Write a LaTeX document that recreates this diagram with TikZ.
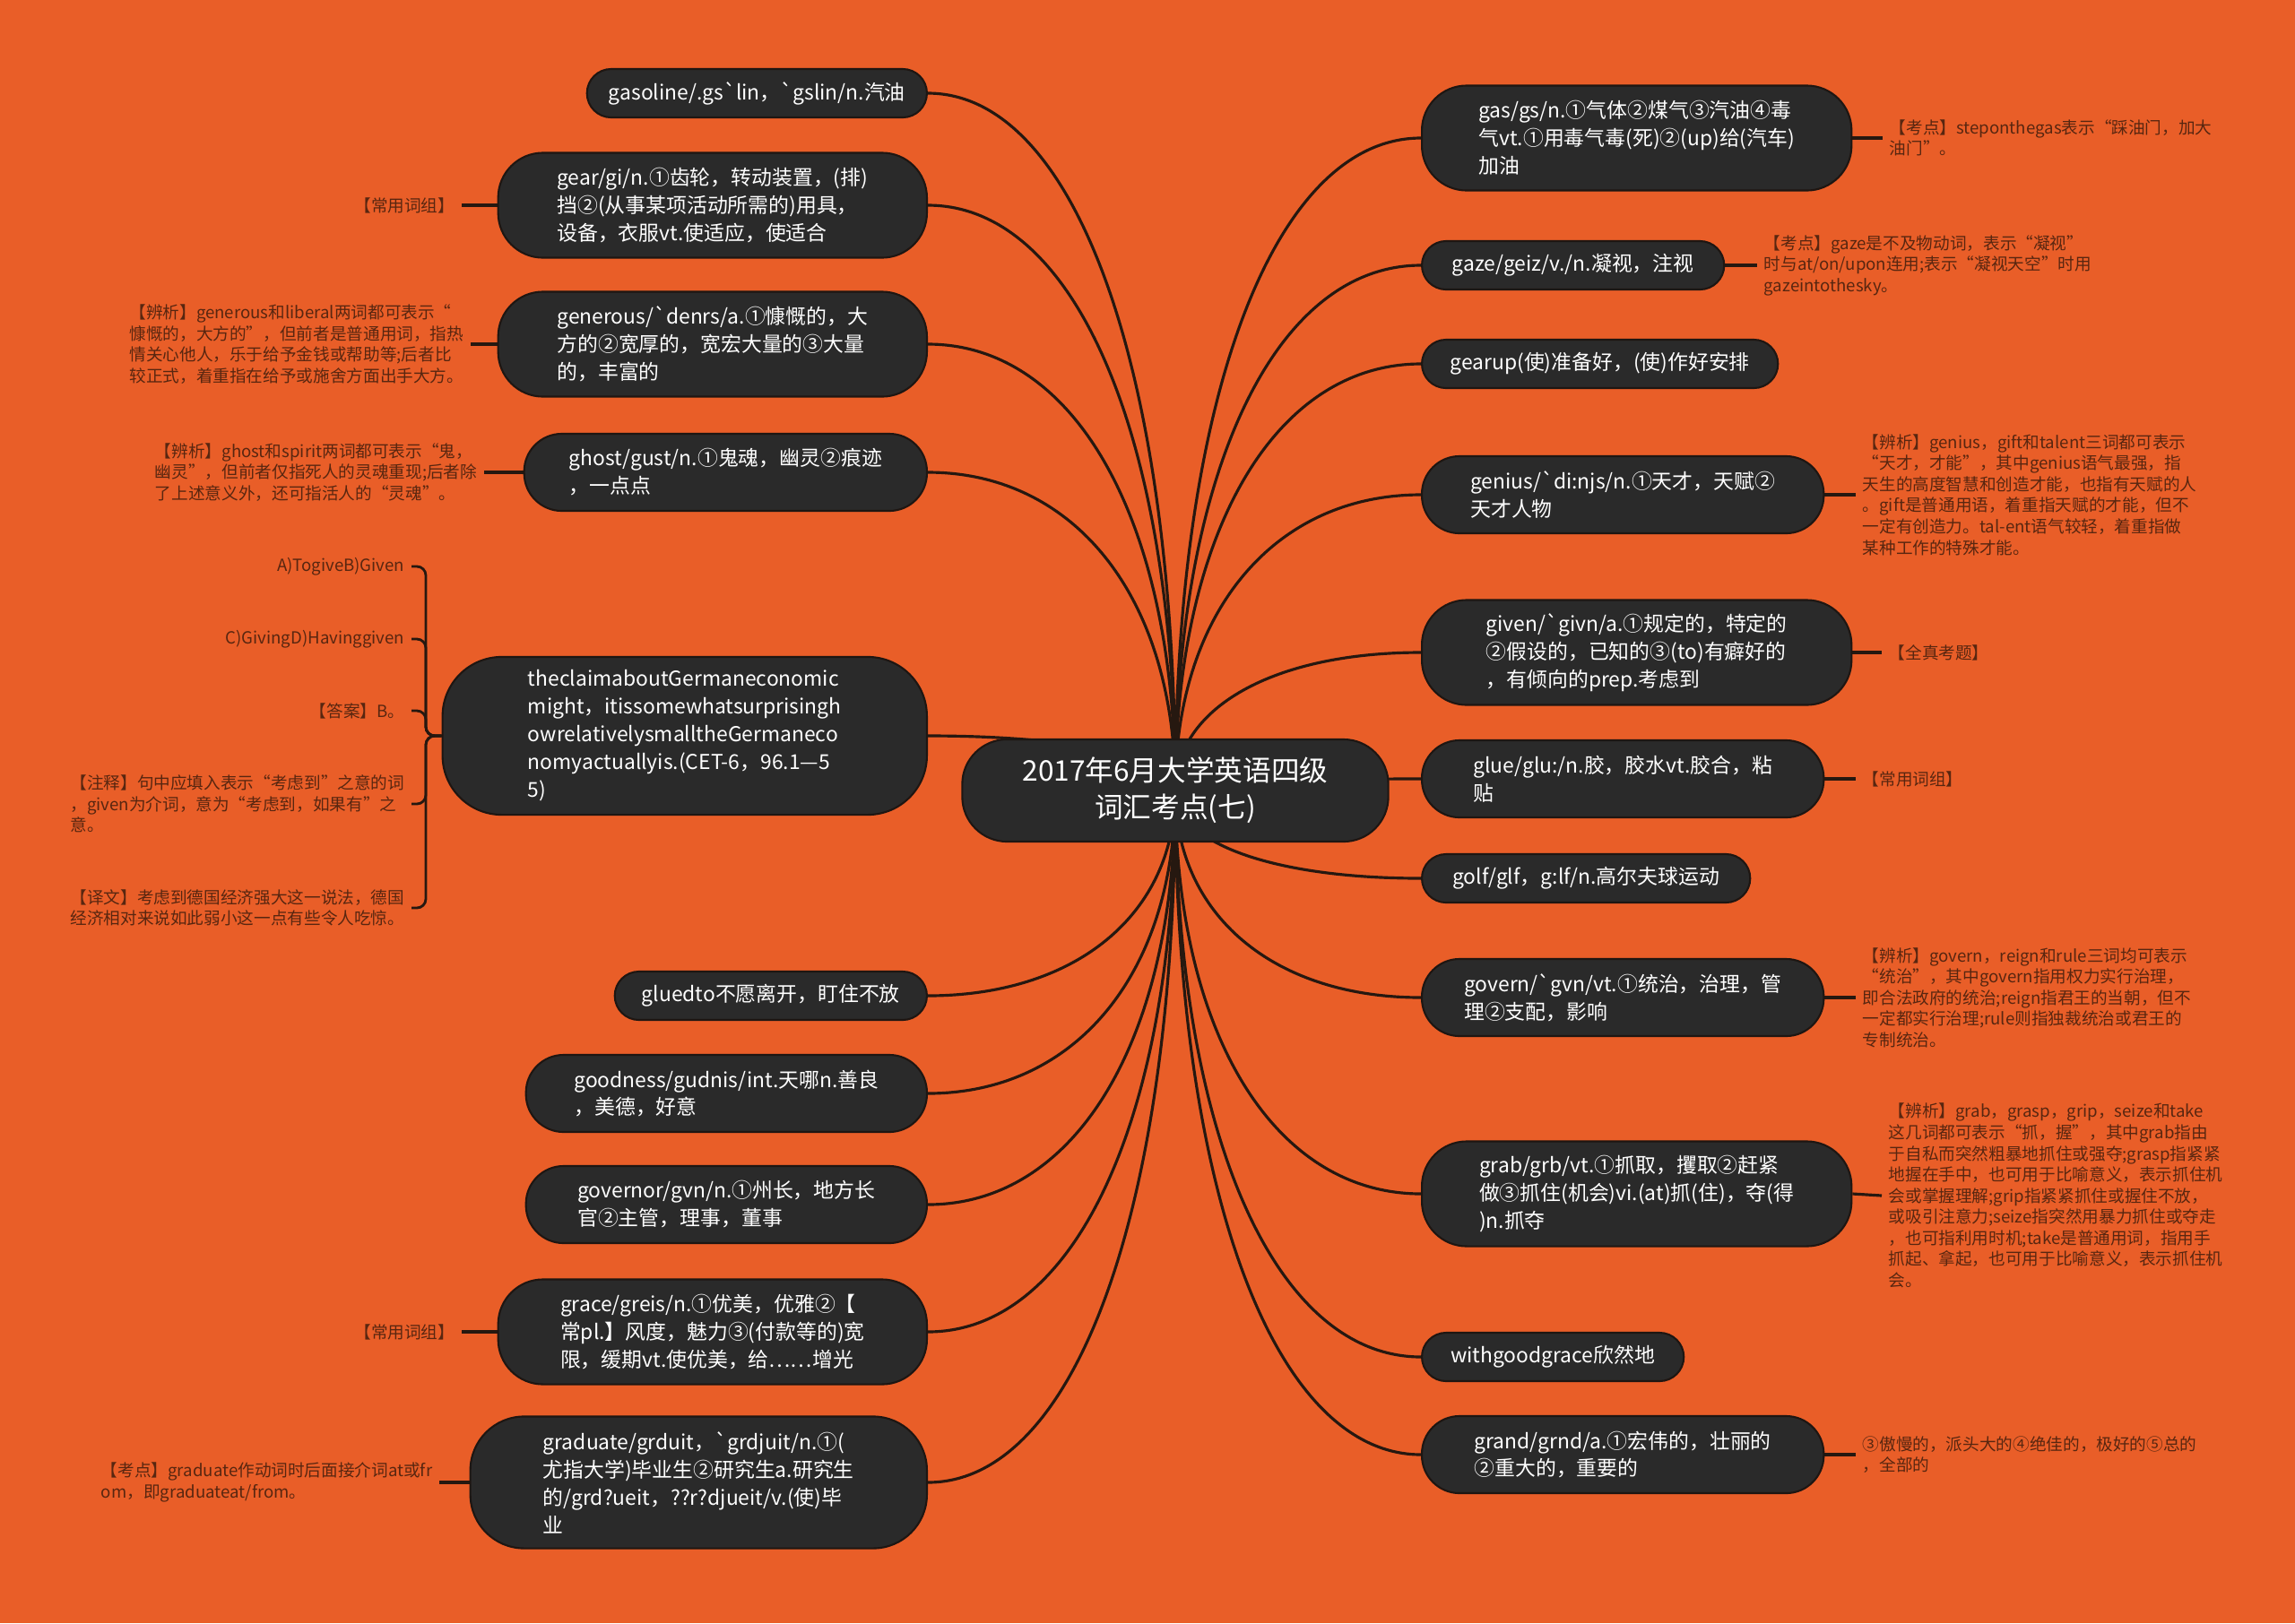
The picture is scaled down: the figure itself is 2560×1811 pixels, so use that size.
\documentclass[tikz,border=0pt]{standalone}
\usepackage{fontspec}
\newfontfamily\zh{Noto Sans CJK SC}
\usetikzlibrary{calc, backgrounds}
\definecolor{pagebg}{RGB}{233,94,40}
\definecolor{leafbg}{RGB}{42,42,42}
\definecolor{leafline}{RGB}{30,22,18}
\definecolor{notetext}{RGB}{88,38,16}
\definecolor{linkcol}{RGB}{38,24,16}
\begin{document}
\begin{tikzpicture}[
    x=0.01cm, y=-0.01cm,
    leaf/.style={draw=leafline, fill=leafbg, text=white, font=\zh\fontsize{6.5}{8.8}\selectfont, align=left, inner sep=0pt, line width=0.6pt},
    lleaf/.style={leaf, anchor=east},
    rleaf/.style={leaf, anchor=west},
    h1/.style={minimum height=0.54cm, rounded corners=0.27cm},
    h2/.style={minimum height=0.86cm, rounded corners=0.42cm},
    h3/.style={minimum height=1.17cm, rounded corners=0.5cm},
    h4/.style={minimum height=1.47cm, rounded corners=0.6cm},
    h5/.style={minimum height=1.76cm, rounded corners=0.66cm},
    hub/.style={leaf, align=center, font=\zh\fontsize{9}{11.6}\selectfont, rounded corners=0.5cm},
    note/.style={text=notetext, font=\zh\fontsize{5.3}{6.7}\selectfont, align=left, inner sep=2pt},
    lnote/.style={note, anchor=east},
    rnote/.style={note, anchor=west},
    link/.style={draw=linkcol, line width=0.9pt},
    brace/.style={draw=linkcol, line width=0.8pt, rounded corners=0.1cm}
]
\useasboundingbox (0,0) rectangle (2560,1811);
\node[hub, minimum width=4.75cm, minimum height=1.14cm] (title) at (1311,882) {2017年6月大学英语四级\\词汇考点(七)};

\node[lleaf, h1, minimum width=3.79cm] (gasoline) at (1035,104) {gasoline/.gs`lin，`gslin/n.汽油};
\node[lleaf, h3, minimum width=4.78cm] (gear) at (1035,229) {gear/gi/n.①齿轮，转动装置，(排)\\挡②(从事某项活动所需的)用具，\\设备，衣服vt.使适应，使适合};
\node[lleaf, h3, minimum width=4.78cm] (generous) at (1035,384) {generous/`denrs/a.①慷慨的，大\\方的②宽厚的，宽宏大量的③大量\\的，丰富的};
\node[lleaf, h2, minimum width=4.49cm] (ghost) at (1035,527) {ghost/gust/n.①鬼魂，幽灵②痕迹\\，一点点};
\node[lleaf, h5, minimum width=5.40cm] (claim) at (1035,821) {theclaimaboutGermaneconomic\\might，itissomewhatsurprisingh\\owrelativelysmalltheGermaneco\\nomyactuallyis.(CET-6，96.1—5\\5)};
\node[lleaf, h1, minimum width=3.48cm] (gluedto) at (1035,1111) {gluedto不愿离开，盯住不放};
\node[lleaf, h2, minimum width=4.47cm] (goodness) at (1035,1220) {goodness/gudnis/int.天哪n.善良\\，美德，好意};
\node[lleaf, h2, minimum width=4.47cm] (governor) at (1035,1344) {governor/gvn/n.①州长，地方长\\官②主管，理事，董事};
\node[lleaf, h3, minimum width=4.78cm] (grace) at (1035,1486) {grace/greis/n.①优美，优雅②【\\常pl.】风度，魅力③(付款等的)宽\\限，缓期vt.使优美，给……增光};
\node[lleaf, h4, minimum width=5.09cm] (graduate) at (1035,1654) {graduate/grduit，`grdjuit/n.①(\\尤指大学)毕业生②研究生a.研究生\\的/grd?ueit，??r?djueit/v.(使)毕\\业};

\node[rleaf, h3, minimum width=4.79cm] (gas) at (1585,154) {gas/gs/n.①气体②煤气③汽油④毒\\气vt.①用毒气毒(死)②(up)给(汽车)\\加油};
\node[rleaf, h1, minimum width=3.37cm] (gaze) at (1585,296) {gaze/geiz/v./n.凝视，注视};
\node[rleaf, h1, minimum width=3.97cm] (gearup) at (1585,406) {gearup(使)准备好，(使)作好安排};
\node[rleaf, h2, minimum width=4.48cm] (genius) at (1585,552) {genius/`di:njs/n.①天才，天赋②\\天才人物};
\node[rleaf, h3, minimum width=4.79cm] (given) at (1585,728) {given/`givn/a.①规定的，特定的\\②假设的，已知的③(to)有癖好的\\，有倾向的prep.考虑到};
\node[rleaf, h2, minimum width=4.48cm] (glue) at (1585,869) {glue/glu:/n.胶，胶水vt.胶合，粘\\贴};
\node[rleaf, h1, minimum width=3.66cm] (golf) at (1585,980) {golf/glf，g:lf/n.高尔夫球运动};
\node[rleaf, h2, minimum width=4.48cm] (govern) at (1585,1113) {govern/`gvn/vt.①统治，治理，管\\理②支配，影响};
\node[rleaf, h3, minimum width=4.79cm] (grab) at (1585,1332) {grab/grb/vt.①抓取，攫取②赶紧\\做③抓住(机会)vi.(at)抓(住)，夺(得\\)n.抓夺};
\node[rleaf, h1, minimum width=2.92cm] (goodgrace) at (1585,1514) {withgoodgrace欣然地};
\node[rleaf, h2, minimum width=4.48cm] (grand) at (1585,1623) {grand/grnd/a.①宏伟的，壮丽的\\②重大的，重要的};

\node[lnote] (gearnote) at (515,229) {【常用词组】};
\node[lnote] (generousnote) at (525,384) {【辨析】generous和liberal两词都可表示“\\慷慨的，大方的”，但前者是普通用词，指热\\情关心他人，乐于给予金钱或帮助等;后者比\\较正式，着重指在给予或施舍方面出手大方。};
\node[lnote] (ghostnote) at (540,527) {【辨析】ghost和spirit两词都可表示“鬼，\\幽灵”，但前者仅指死人的灵魂重现;后者除\\了上述意义外，还可指活人的“灵魂”。};
\node[lnote] (optab) at (459,632) {A)TogiveB)Given};
\node[lnote] (optcd) at (459,713) {C)GivingD)Havinggiven};
\node[lnote] (answer) at (459,793) {【答案】B。};
\node[lnote] (gloss) at (459,897) {【注释】句中应填入表示“考虑到”之意的词\\，given为介词，意为“考虑到，如果有”之\\意。};
\node[lnote] (transl) at (459,1013) {【译文】考虑到德国经济强大这一说法，德国\\经济相对来说如此弱小这一点有些令人吃惊。};
\node[lnote] (gracenote) at (515,1486) {【常用词组】};
\node[lnote] (graduatenote) at (490,1654) {【考点】graduate作动词时后面接介词at或fr\\om，即graduateat/from。};

\node[rnote] (gasnote) at (2100,154) {【考点】steponthegas表示“踩油门，加大\\油门”。};
\node[rnote] (gazenote) at (1960,296) {【考点】gaze是不及物动词，表示“凝视”\\时与at/on/upon连用;表示“凝视天空”时用\\gazeintothesky。};
\node[rnote] (geniusnote) at (2070,552) {【辨析】genius，gift和talent三词都可表示\\“天才，才能”，其中genius语气最强，指\\天生的高度智慧和创造才能，也指有天赋的人\\。gift是普通用语，着重指天赋的才能，但不\\一定有创造力。tal-ent语气较轻，着重指做\\某种工作的特殊才能。};
\node[rnote] (givennote) at (2099,728) {【全真考题】};
\node[rnote] (gluenote) at (2070,869) {【常用词组】};
\node[rnote] (governnote) at (2070,1113) {【辨析】govern，reign和rule三词均可表示\\“统治”，其中govern指用权力实行治理，\\即合法政府的统治;reign指君王的当朝，但不\\一定都实行治理;rule则指独裁统治或君王的\\专制统治。};
\node[rnote] (grabnote) at (2099,1334) {【辨析】grab，grasp，grip，seize和take\\这几词都可表示“抓，握”，其中grab指由\\于自私而突然粗暴地抓住或强夺;grasp指紧紧\\地握在手中，也可用于比喻意义，表示抓住机\\会或掌握理解;grip指紧紧抓住或握住不放，\\或吸引注意力;seize指突然用暴力抓住或夺走\\，也可指利用时机;take是普通用词，指用手\\抓起、拿起，也可用于比喻意义，表示抓住机\\会。};
\node[rnote] (grandnote) at (2070,1623) {③傲慢的，派头大的④绝佳的，极好的⑤总的\\，全部的};

\coordinate (claimjoin) at (475,821);

\begin{scope}[on background layer]
\fill[pagebg] (0,0) rectangle (2560,1811);
\foreach \n in {gasoline,gear,generous,ghost,claim,gluedto,goodness,governor,grace,graduate}
  \draw[link] (title.center) .. controls ($(title.center)!0.6!(title.center|-\n.east)$) and ($(\n.east)!0.6!(title.center|-\n.east)$) .. (\n.east);
\foreach \n in {gas,gaze,gearup,genius,given,glue,golf,govern,grab,goodgrace,grand}
  \draw[link] (title.center) .. controls ($(title.center)!0.6!(title.center|-\n.west)$) and ($(\n.west)!0.6!(title.center|-\n.west)$) .. (\n.west);
\foreach \a/\b in {gear/gearnote,generous/generousnote,ghost/ghostnote,grace/gracenote,graduate/graduatenote}
  \draw[link] (\a.west) -- (\b.east);
\foreach \a/\b in {gas/gasnote,gaze/gazenote,genius/geniusnote,given/givennote,glue/gluenote,govern/governnote,grab/grabnote,grand/grandnote}
  \draw[link] (\a.east) -- (\b.west);
\foreach \n in {optab,optcd,answer,gloss,transl}
  \draw[brace] (claim.west) -- (claimjoin) |- (\n.east);
\end{scope}
\end{tikzpicture}
\end{document}
